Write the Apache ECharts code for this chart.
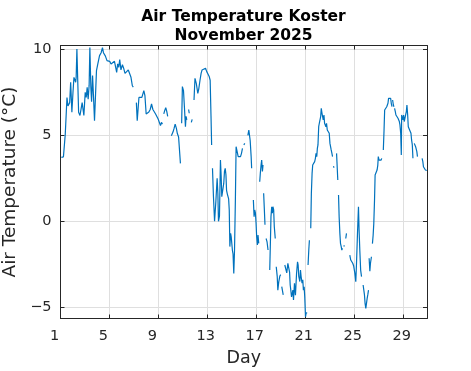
<!DOCTYPE html>
<html>
<head>
<meta charset="utf-8">
<script src="https://cdn.jsdelivr.net/npm/echarts@6/dist/echarts.min.js"></script>
<style>html,body{margin:0;padding:0;background:#fff}#c{width:471px;height:371px}</style>
</head>
<body>
<div id="c"></div>
<script>
// Day of month (fractional) and air temperature (°C); null marks a gap in the record
const day = [
1.07,1.16,1.24,1.39,1.53,1.61,1.75,1.83,1.93,2.02,2.10,2.24,2.28,2.34,2.42,2.48,2.59,2.69,2.77,2.85,2.91,3.02,3.10,3.18,3.26,3.34,3.40,3.48,3.54,3.62,3.70,3.78,3.94,4.05,4.19,4.32,4.43,4.51,4.59,4.67,4.80,4.92,5.02,5.13,5.21,5.29,5.41,5.51,5.59,5.67,5.76,5.84,5.94,6.06,6.16,6.27,6.41,6.54,6.65,6.76,6.87,6.95,null,
7.20,7.27,7.41,7.53,7.65,7.81,7.90,8.00,8.11,8.22,8.33,8.44,8.55,8.66,8.77,8.87,8.98,9.07,9.17,9.25,9.33,null,
9.44,9.52,9.60,9.68,9.76,null,
10.06,10.12,10.20,10.28,10.37,10.47,10.55,10.65,10.80,null,
10.90,10.96,11.05,11.13,11.21,11.26,11.32,null,
11.47,11.52,null,11.69,11.76,null,
11.91,11.99,12.10,12.22,12.30,12.40,12.49,12.57,12.70,12.85,12.95,13.06,13.16,13.23,13.30,13.35,null,
13.42,13.50,13.59,13.70,13.80,13.86,13.91,13.99,14.07,14.13,14.18,14.26,14.34,14.40,14.46,14.52,14.57,14.63,14.68,14.74,14.79,14.84,14.90,14.95,15.05,15.10,15.16,15.22,15.29,15.35,15.43,15.52,15.63,15.71,15.79,15.87,null,
15.98,16.06,null,
16.31,16.39,16.45,16.50,16.58,16.62,null,
16.76,16.82,16.87,16.93,16.98,17.03,17.09,17.14,17.20,null,
17.28,17.33,17.39,17.44,17.50,17.55,null,
17.60,17.66,17.71,null,
17.80,17.88,17.96,null,
18.10,18.15,18.20,18.26,18.31,18.36,18.42,18.47,18.55,null,
18.63,18.71,18.76,18.84,18.92,18.99,19.03,null,
19.08,19.20,null,
19.33,19.41,19.49,19.58,19.66,19.72,19.77,19.82,19.88,19.93,19.99,20.04,20.12,20.20,20.29,20.37,20.42,20.47,20.56,20.61,20.66,20.74,20.80,20.85,20.91,20.96,21.02,21.07,21.15,null,
21.23,21.29,21.34,null,
21.45,21.50,21.56,21.61,21.67,21.72,21.77,21.83,21.88,21.94,21.99,22.04,22.10,22.15,22.20,22.26,22.31,22.37,22.42,22.47,22.53,22.58,22.64,22.69,22.74,22.80,22.85,22.91,22.96,23.02,23.07,23.12,23.18,23.23,null,
23.30,23.36,null,
23.56,23.61,23.66,null,
23.72,23.77,23.83,23.88,23.94,23.99,24.04,null,
24.15,24.20,null,
24.31,24.37,null,
24.64,24.72,24.80,24.88,24.96,25.05,25.13,25.19,25.27,25.35,25.40,25.46,25.53,25.60,null,
25.73,25.78,25.84,25.89,25.95,26.00,26.06,26.11,26.17,null,
26.22,26.28,26.33,26.41,null,
26.49,26.55,26.60,26.66,26.71,26.77,26.82,26.87,26.93,26.97,27.03,27.09,27.14,27.20,27.25,null,
27.38,27.44,27.49,27.55,27.60,27.66,27.71,27.76,27.81,27.87,27.92,27.98,28.03,28.09,null,
28.14,28.20,28.25,null,
28.30,28.36,28.41,28.47,28.52,28.58,28.63,28.69,28.74,28.80,28.85,28.88,28.93,28.99,29.04,29.09,29.15,29.20,29.26,29.31,29.37,29.42,29.47,29.53,29.58,29.64,29.69,29.75,29.80,null,
29.91,29.96,30.02,30.07,30.12,30.17,null,
30.55,30.61,30.66,30.72,30.82,30.93
];
const temp = [
3.72,3.8,3.75,5.07,7.2,6.7,6.9,8.08,6.34,7.5,8.37,8.08,8.37,10.02,7.9,6.34,6.15,6.05,6.9,6.8,6.15,7.5,7.2,7.79,7.1,7.9,10.1,7.8,6.95,8.47,7.2,5.85,8.76,9.15,9.63,9.8,10.1,9.8,9.73,9.6,9.34,9.4,9.3,9.15,9.25,9.05,9.3,9.4,8.66,9.15,8.95,9.4,8.8,9.1,8.9,8.6,8.7,8.8,8.7,8.37,7.88,7.8,null,
6.9,5.85,7.2,7.3,7.2,7.6,7.3,6.24,6.24,6.35,6.5,6.82,6.5,6.6,6.24,6.35,5.95,5.85,5.56,5.75,5.65,null,
6.24,6.45,6.6,6.4,6.1,null,
4.98,5.05,5.2,5.4,5.65,5.4,5.1,4.9,3.37,null,
5.7,7.83,7.6,6.6,5.5,6.1,5.9,null,
6.5,6.28,null,5.75,5.93,null,
7.05,8.31,8.0,7.44,7.7,8.2,8.6,8.8,8.85,8.9,8.7,8.55,8.4,8.2,6.1,4.44,null,
3.08,1.43,0.0,1.2,2.5,1.6,0.0,0.3,3.56,2.6,1.43,1.43,2.2,2.9,3.08,2.7,1.8,1.6,1.7,1.3,0.66,-1.47,-0.7,-0.9,-1.7,-1.9,-3.03,-1.7,1.2,4.34,4.44,3.76,3.66,3.76,3.95,4.24,null,
4.44,4.53,null,
5.0,5.3,5.3,4.7,3.76,3.08,null,
1.24,0.27,0.66,0.47,-0.1,-0.9,-1.37,-0.8,-1.28,null,
2.3,2.8,3.27,3.56,2.9,3.27,null,
1.63,0.66,-0.2,null,
-1.0,-1.2,-1.67,null,
-2.83,-1.3,0.27,0.85,0.47,0.85,0.66,-0.3,-1.0,null,
-2.64,-3.2,-4.0,-3.5,-3.2,-3.1,-3.12,null,
-3.8,-4.28,null,
-2.54,-2.6,-3.0,-2.44,-2.35,-2.95,-3.7,-4.0,-4.4,-4.48,-4.0,-4.57,-3.6,-4.3,-3.03,-2.35,-2.55,-3.2,-3.5,-2.83,-3.2,-3.6,-3.4,-4.0,-3.8,-4.4,-5.55,-5.35,-5.3,null,
-2.54,-1.67,-1.1,null,
-0.41,1.63,2.79,3.27,3.17,3.27,3.47,3.66,3.95,3.76,4.24,4.44,5.5,5.7,5.8,6.08,6.57,6.28,6.37,5.9,6.18,5.7,5.8,5.5,5.7,5.31,5.21,5.31,5.12,4.53,4.34,4.15,3.95,3.76,null,
3.2,3.12,null,
3.95,3.85,2.4,null,
1.53,0.27,-0.7,-1.28,-1.47,-1.67,-1.57,null,
-1.47,-1.4,null,
-1.0,-0.7,null,
-1.96,-2.25,-2.35,-2.44,-2.6,-3.0,-3.51,-2.44,-0.7,0.85,-0.5,-1.7,-2.85,-3.22,null,
-3.7,-3.7,-4.28,-4.77,-5.06,-5.16,-4.48,-4.28,-4.0,null,
-2.15,-2.9,-2.44,-2.06,null,
-1.3,-0.8,-0.15,1.2,2.69,2.79,2.79,2.98,3.27,3.76,3.56,3.47,3.66,3.56,3.66,null,
4.15,5.3,6.47,6.57,6.37,6.66,6.76,6.86,7.15,7.05,7.24,7.15,6.86,6.66,null,
7.05,6.76,6.66,null,
6.57,6.37,6.18,6.28,6.18,5.99,6.08,5.8,5.6,5.12,3.85,6.18,6.08,5.9,6.18,5.8,6.0,5.9,6.37,6.76,6.18,5.5,5.41,5.31,5.21,5.12,4.73,4.44,3.66,null,
4.53,4.44,4.34,4.24,4.05,3.76,null,
3.66,3.47,3.17,3.08,2.98,2.95
];
const xTicks = [1, 5, 9, 13, 17, 21, 25, 29];
const yTicks = [-5, 0, 5, 10];

const FONT = 'DejaVu Sans';
const AX = '#262626';
const data = day.map((d, i) => [d, temp[i]]);
const labelText = {fontFamily: FONT, fontSize: 14.5, color: AX};

const chart = echarts.init(document.getElementById('c'), null, {renderer: 'canvas'});
const xRange = {min: 1, max: 30.95};
const yRange = {min: -5.65, max: 10.22};
chart.setOption({
  animation: false,
  backgroundColor: '#fff',
  title: {
    text: 'Air Temperature Koster\nNovember 2025',
    left: 238.5, top: 2, textAlign: 'center',
    textStyle: {fontFamily: FONT, fontWeight: 'bold', fontSize: 15.5, lineHeight: 19.5, color: '#000'}
  },
  grid: {left: 60.5, top: 45.5, width: 366.5, height: 273, containLabel: false, outerBoundsMode: 'none'},
  xAxis: [{
    type: 'value', ...xRange, position: 'bottom',
    name: 'Day', nameLocation: 'middle', nameGap: 31,
    nameTextStyle: {fontFamily: FONT, fontSize: 17.5, color: AX},
    axisLine: {show: true, onZero: false, lineStyle: {color: AX, width: 1}},
    axisTick: {show: true, inside: true, length: 4, customValues: xTicks, lineStyle: {color: AX}},
    axisLabel: {customValues: xTicks, margin: 10, ...labelText,
      formatter: v => (v < 10 ? '{s|' + v + '}' : '{d|' + v + '}'),
      rich: {s: {...labelText, padding: [0, 12, 0, 0]}, d: {...labelText, padding: [0, 3, 0, 0]}}},
    splitLine: {show: true, lineStyle: {color: '#dfdfdf', width: 1}}
  }, {
    type: 'value', ...xRange, position: 'top',
    axisLine: {show: true, onZero: false, lineStyle: {color: AX, width: 1}},
    axisTick: {show: true, inside: true, length: 4, customValues: xTicks, lineStyle: {color: AX}},
    axisLabel: {show: false}, splitLine: {show: false}
  }],
  yAxis: [{
    type: 'value', ...yRange, position: 'left',
    name: 'Air Temperature (°C)', nameLocation: 'middle', nameGap: 33, nameRotate: 90,
    nameTextStyle: {fontFamily: FONT, fontSize: 18.5, color: AX},
    axisLine: {show: true, onZero: false, lineStyle: {color: AX, width: 1}},
    axisTick: {show: true, inside: true, length: 4, customValues: yTicks, lineStyle: {color: AX}},
    axisLabel: {customValues: yTicks, margin: 9, ...labelText,
      formatter: v => (v < 0 ? '\u2212' + Math.abs(v) : String(v))},
    splitLine: {show: true, lineStyle: {color: '#dfdfdf', width: 1}}
  }, {
    type: 'value', ...yRange, position: 'right',
    axisLine: {show: true, onZero: false, lineStyle: {color: AX, width: 1}},
    axisTick: {show: true, inside: true, length: 4, customValues: yTicks, lineStyle: {color: AX}},
    axisLabel: {show: false}, splitLine: {show: false}
  }],
  series: [{
    type: 'line', xAxisIndex: 0, yAxisIndex: 0,
    data: data, showSymbol: false, connectNulls: false,
    lineStyle: {color: '#0072BD', width: 1.2}, itemStyle: {color: '#0072BD'},
    clip: true
  }]
});
</script>
</body>
</html>
